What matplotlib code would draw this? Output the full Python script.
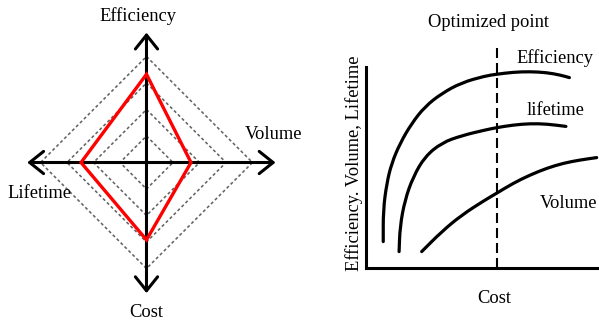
import numpy as np
import matplotlib.pyplot as plt
from matplotlib.patches import Polygon, PathPatch
from matplotlib.path import Path

plt.rcParams['font.family'] = ['Liberation Serif', 'DejaVu Serif']
plt.rcParams['font.size'] = 13.3
plt.rcParams['lines.scale_dashes'] = False

# left: design-space diamond
axis_names = ['Efficiency', 'Volume', 'Cost', 'Lifetime']
axis_angles = [90, 0, 270, 180]
design_values = [3.33, 1.68, 2.92, 2.47]
grid_levels = [1, 2, 3, 4]

# right: trade-off curves, cost (x) vs. performance (y)
eff_cost = [7.4, 7.4, 8.9, 11.0, 14.6, 19.6, 25.3, 32.5, 41.1, 51.1, 56.1, 63.2, 70.4, 77.6, 83.3, 87.3]
eff_val = [13.2, 29.0, 42.3, 52.3, 62.3, 72.3, 80.7, 87.3, 92.7, 96.0, 96.9, 97.9, 98.2, 97.7, 96.5, 95.2]
life_cost = [14.2, 14.6, 16.7, 20.3, 25.3, 32.5, 41.1, 51.1, 56.1, 63.2, 70.4, 77.6, 85.8]
life_val = [8.2, 20.7, 34.0, 45.7, 55.7, 62.6, 66.2, 69.0, 70.2, 71.5, 72.2, 72.0, 70.8]
vol_cost = [23.9, 32.5, 41.1, 51.1, 56.1, 63.2, 70.4, 77.6, 84.7, 91.8, 99.0]
vol_val = [8.2, 18.2, 26.5, 34.0, 37.4, 42.4, 46.5, 49.9, 52.4, 54.0, 55.2]
optimum_cost = 56.2


def smooth_path(xs, ys):
    # quadratic bezier through the midpoints, read points act as control points
    p = np.column_stack([xs, ys])
    verts = [p[0], (p[0] + p[1]) / 2]
    codes = [Path.MOVETO, Path.LINETO]
    for i in range(1, len(p) - 1):
        verts += [p[i], (p[i] + p[i + 1]) / 2]
        codes += [Path.CURVE3, Path.CURVE3]
    verts.append(p[-1])
    codes.append(Path.LINETO)
    return Path(verts, codes)


fig = plt.figure(figsize=(5.99, 3.24), dpi=100)

# ---- left panel
ax1 = fig.add_axes([0, 0, 0.5, 1])
ax1.set_xlim(-5.528, 5.774)
ax1.set_ylim(-6.094, 6.132)
ax1.axis('off')

theta = np.deg2rad(axis_angles)
for r in grid_levels:
    pts = np.column_stack([r * np.cos(theta), r * np.sin(theta)])
    ax1.add_patch(Polygon(pts, closed=True, fill=False, ec='#646464', lw=1.15,
                          ls=(0, (2.2, 1.8)), zorder=1))

arrow = dict(arrowstyle='<->,head_length=0.5,head_width=0.4', lw=2.2, color='black',
             shrinkA=0, shrinkB=0, mutation_scale=20)
ax1.annotate('', xy=(4.87, 0), xytext=(-4.5, 0), arrowprops=arrow, zorder=2)
ax1.annotate('', xy=(0, 4.9), xytext=(0, -4.93), arrowprops=arrow, zorder=2)

vals = np.array(design_values)
pts = np.column_stack([vals * np.cos(theta), vals * np.sin(theta)])
ax1.add_patch(Polygon(pts, closed=True, fill=False, ec='#ff0000', lw=2.4,
                      joinstyle='miter', zorder=4))

ax1.text(-0.32, 5.34, axis_names[0], ha='center', va='baseline')
ax1.text(3.72, 0.875, axis_names[1], ha='left', va='baseline')
ax1.text(0, -5.84, axis_names[2], ha='center', va='baseline')
ax1.text(-5.26, -1.35, axis_names[3], ha='left', va='baseline')

# ---- right panel
ax2 = fig.add_axes([366 / 599, 56 / 324, 233 / 599, 228 / 324])
ax2.set_xlim(0, 100)
ax2.set_ylim(0, 114)
ax2.set_xticks([])
ax2.set_yticks([])
ax2.patch.set_visible(False)
for side in ['top', 'right']:
    ax2.spines[side].set_visible(False)
for side in ['left', 'bottom']:
    ax2.spines[side].set_linewidth(2.2)
ax2.spines['left'].set_bounds(0, 100.5)

for xs, ys in [(eff_cost, eff_val), (life_cost, life_val), (vol_cost, vol_val)]:
    ax2.add_patch(PathPatch(smooth_path(xs, ys), fill=False, ec='black', lw=2.3,
                            capstyle='round', joinstyle='round', clip_on=False))

ax2.axvline(optimum_cost, ymin=0, ymax=112.5 / 114, color='black', lw=1.5,
            ls=(0, (7.2, 3.6)))

ax2.text(52.6, 120.7, 'Optimized point', ha='center', va='baseline')
ax2.text(64.7, 102.4, 'Efficiency', ha='left', va='baseline')
ax2.text(69.0, 76.5, 'lifetime', ha='left', va='baseline')
ax2.text(74.7, 29.9, 'Volume', ha='left', va='baseline')
ax2.text(54.9, -17.7, 'Cost', ha='center', va='baseline')
ax2.text(-5.2, 52.5, 'Efficiency. Volume, Lifetime', rotation=90,
         ha='center', va='center')

fig.savefig('out.png', dpi=100)
